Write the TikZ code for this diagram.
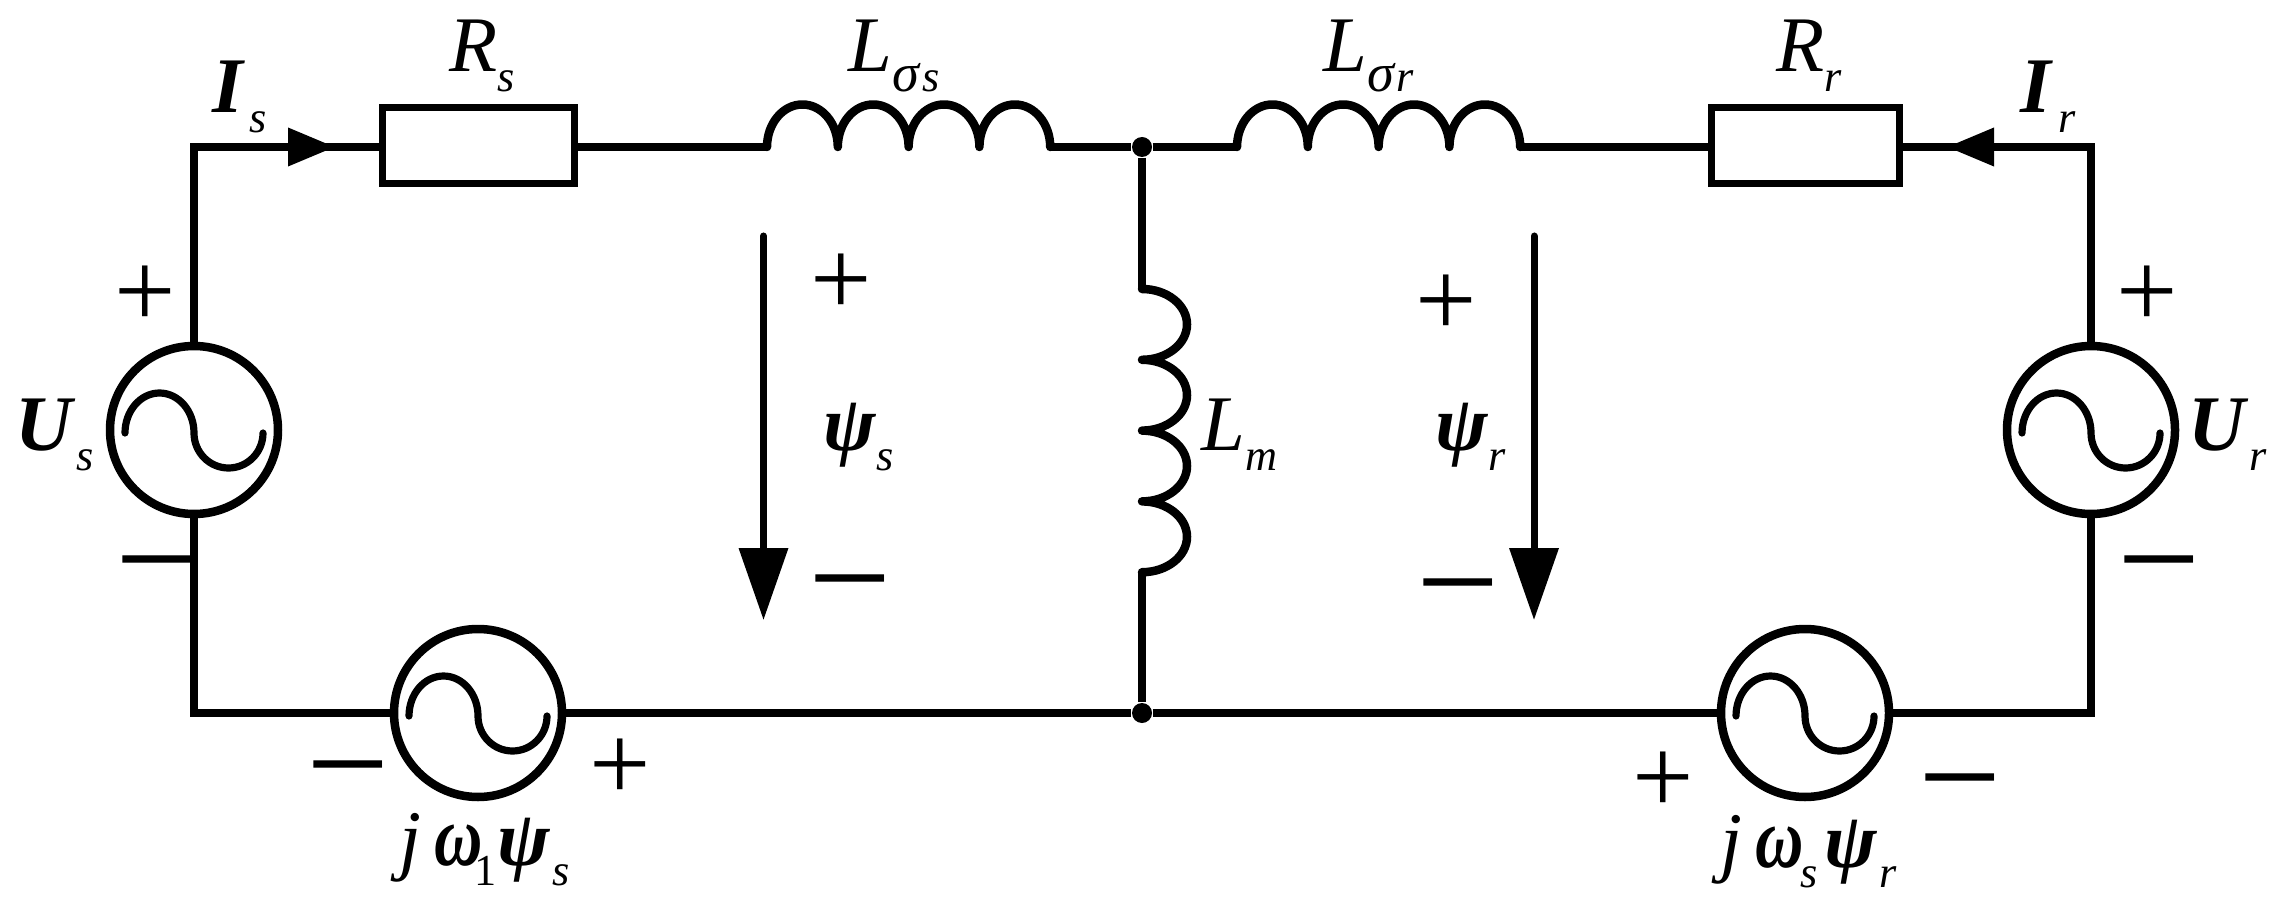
\documentclass[tikz,border=0pt]{standalone}
\usepackage{fontspec}
\setmainfont{Liberation Serif}
\usetikzlibrary{calc}
\usetikzlibrary{arrows.meta}

% main letter with its lowered subscript
\newcommand{\lab}[2]{#1\raisebox{-.2cm}{\fontsize{12.6}{12.6}\selectfont\mdseries\itshape #2}}
\newcommand{\low}[1]{\raisebox{-.2cm}{\fontsize{12.6}{12.6}\selectfont\mdseries #1}}
\newcommand{\sg}{{\fontsize{15.5}{15.5}\selectfont σ}}
\newcommand{\om}{\scalebox{.85}[1.1]{\textbf{ω}}}

\tikzset{
  wire/.style={line width=.075cm},
  coil/.style={line width=.085cm,line cap=round,line join=round},
  sine/.style={line width=.072cm,line cap=round},
  res node/.style={rectangle,draw,line width=.07cm,minimum width=1.92cm,minimum height=.76cm,inner sep=0pt},
  src node/.style={circle,draw,line width=.085cm,minimum size=1.68cm,inner sep=0pt},
  dot node/.style={circle,fill=black,minimum size=.2cm,inner sep=0pt},
  flow/.style={-{Triangle[length=.47cm,width=.37cm]},line width=.07cm},
  flux/.style={-{Triangle[length=.72cm,width=.48cm]},line width=.07cm,line cap=round},
  txt node/.style={inner sep=0pt,anchor=base west,font=\fontsize{22.4}{22.4}\selectfont\itshape},
  bold node/.style={txt node,font=\fontsize{22.4}{22.4}\selectfont\bfseries\itshape},
  plus node/.style={inner sep=0pt,yshift=-.06cm,font=\fontsize{31}{31}\selectfont},
  minus node/.style={inner sep=0pt,yshift=-.23cm,font=\fontsize{42}{42}\selectfont}
}

\newcommand{\sinewave}[1]{
  \draw[sine] ($(#1)+(-.69,-.03)$) arc[start angle=180,end angle=0,x radius=.345,y radius=.40]
    arc[start angle=180,end angle=360,x radius=.345,y radius=.35];
}

\begin{document}
\begin{tikzpicture}
  \useasboundingbox (0,0) rectangle (22.78,9.03);

  \node[dot node] (top) at (11.42,7.56) {};
  \node[dot node] (bot) at (11.42,1.90) {};
  \node[res node] (rs) at (4.785,7.575) {};
  \node[res node,minimum width=1.88cm] (rr) at (18.055,7.575) {};
  \node[src node] (us) at (1.94,4.73) {};
  \node[src node] (ur) at (20.91,4.73) {};
  \node[src node] (es) at (4.78,1.90) {};
  \node[src node] (er) at (18.05,1.90) {};

  \coordinate (lsa) at (7.67,7.56);
  \coordinate (lsb) at (10.50,7.56);
  \coordinate (lra) at (12.37,7.56);
  \coordinate (lrb) at (15.20,7.56);
  \coordinate (lma) at (11.42,6.14);
  \coordinate (lmb) at (11.42,3.31);

  % windings
  \draw[coil] (lsa) \foreach \k in {1,...,4} {arc[start angle=180,end angle=0,x radius=.354,y radius=.425]};
  \draw[coil] (lra) \foreach \k in {1,...,4} {arc[start angle=180,end angle=0,x radius=.354,y radius=.425]};
  \draw[coil] (lma) \foreach \k in {1,...,4} {arc[start angle=90,end angle=-90,x radius=.45,y radius=.354]};

  % wires
  \draw[wire] (us.north) |- (rs.west |- top);
  \draw[wire] (rs.east |- top) -- (lsa);
  \draw[wire] (lsb) -- (top);
  \draw[wire] (top) -- (lra);
  \draw[wire] (lrb) -- (rr.west |- top);
  \draw[wire] (rr.east |- top) -| (ur.north);
  \draw[wire] (top) -- (lma);
  \draw[wire] (lmb) -- (bot);
  \draw[wire] (us.south) |- (es.west);
  \draw[wire] (es.east) -- (bot);
  \draw[wire] (bot) -- (er.west);
  \draw[wire] (er.east) -| (ur.south);

  \sinewave{us}
  \sinewave{ur}
  \sinewave{es}
  \sinewave{er}

  % current and flux arrows
  \coordinate (isa) at (2.90,7.56);
  \coordinate (isb) at (3.35,7.56);
  \coordinate (ira) at (20.40,7.56);
  \coordinate (irb) at (19.47,7.56);
  \coordinate (psa) at (7.635,6.67);
  \coordinate (psb) at (7.635,2.83);
  \coordinate (pra) at (15.34,6.67);
  \coordinate (prb) at (15.34,2.83);
  \draw[flow] (isa) -- (isb);
  \draw[flow] (ira) -- (irb);
  \draw[flux] (psa) -- (psb);
  \draw[flux] (pra) -- (prb);

  % labels
  \node[txt node] (rslab) at (4.49,8.31) {\lab{R}{s}};
  \node[txt node] (rrlab) at (17.76,8.31) {\lab{R}{r}};
  \node[txt node] (lslab) at (8.48,8.31) {\lab{L}{\sg\kern.03cm s}};
  \node[txt node] (lrlab) at (13.23,8.31) {\lab{L}{\sg\kern.02cm r}};
  \node[txt node] (lmlab) at (12.01,4.53) {\lab{L}{m}};
  \node[bold node] (islab) at (2.12,7.90) {\lab{I\kern.06cm}{s}};
  \node[bold node] (irlab) at (20.20,7.90) {\lab{I\kern.07cm}{r}};
  \node[bold node] (uslab) at (.15,4.53) {\lab{U\kern.04cm}{s}};
  \node[bold node] (urlab) at (21.88,4.53) {\lab{U\kern.04cm}{r}};
  \node[bold node] (pslab) at (8.23,4.53) {\lab{ψ}{s}};
  \node[bold node] (prlab) at (14.35,4.53) {\lab{ψ}{r}};
  \node[txt node] (eslab) at (3.99,.38) {j\kern.13cm\om\kern-.08cm\low{\upshape 1}\textbf{ψ}\kern.03cm\low{\itshape s}};
  \node[txt node] (erlab) at (17.20,.36) {j\kern.13cm\om\kern-.03cm\low{\itshape s}\kern.06cm\textbf{ψ}\kern.03cm\low{\itshape r}};

  % signs
  \node[plus node] (up1) at (1.45,6.12) {+};
  \node[minus node] (um1) at (1.57,3.44) {−};
  \node[plus node] (up2) at (21.47,6.12) {+};
  \node[minus node] (um2) at (21.59,3.44) {−};
  \node[plus node] (ep1) at (6.20,1.39) {+};
  \node[minus node] (em1) at (3.48,1.39) {−};
  \node[plus node] (ep2) at (16.63,1.26) {+};
  \node[minus node] (em2) at (19.60,1.26) {−};
  \node[plus node] (fp1) at (8.41,6.24) {+};
  \node[minus node] (fm1) at (8.50,3.25) {−};
  \node[plus node] (fp2) at (14.46,6.03) {+};
  \node[minus node] (fm2) at (14.58,3.21) {−};
\end{tikzpicture}
\end{document}
